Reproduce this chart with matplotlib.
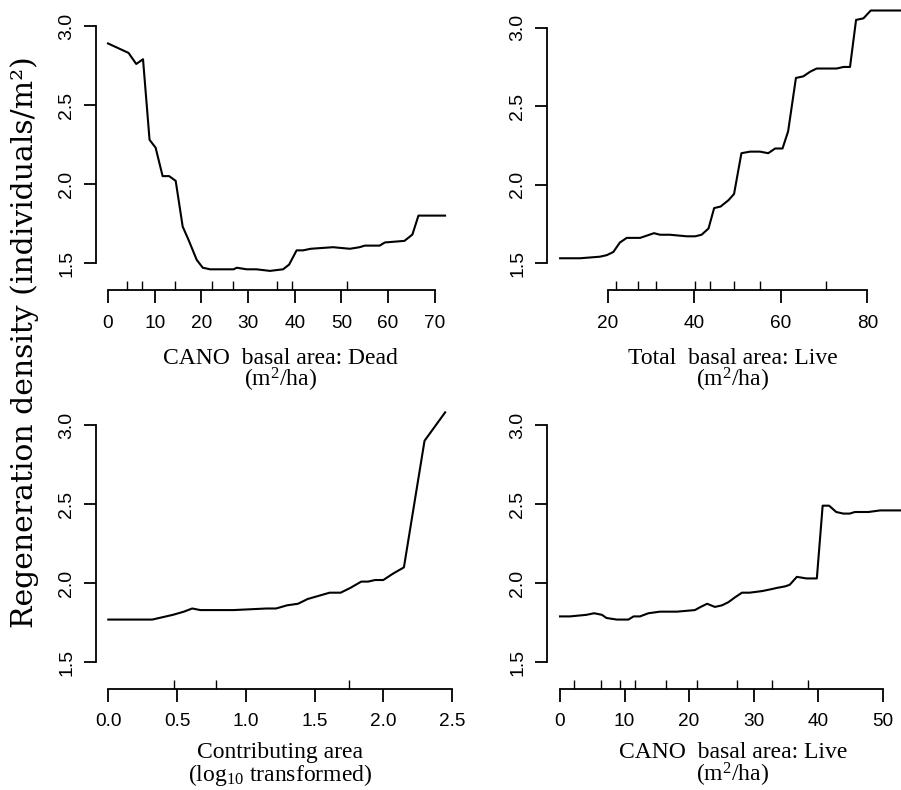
import matplotlib
matplotlib.use("Agg")
import matplotlib.pyplot as plt
import numpy as np

# ---------------- data ----------------
dead_x = [0, 4.4, 6.05, 7.5, 8.9, 10.2, 11.7, 13.1, 14.5, 16.0, 17.2, 19.0, 20.3, 21.9,
          26.9, 27.6, 29.7, 31.8, 34.7, 37.5, 38.8, 40.4, 41.8, 43.4, 48.2, 51.8, 53.9,
          55.0, 58.2, 59.3, 63.5, 65.2, 66.5, 72.2]
dead_y = [2.89, 2.83, 2.76, 2.79, 2.28, 2.23, 2.05, 2.05, 2.02, 1.73, 1.65, 1.52, 1.47, 1.46,
          1.46, 1.47, 1.46, 1.46, 1.45, 1.46, 1.49, 1.58, 1.58, 1.59, 1.60, 1.59, 1.60,
          1.61, 1.61, 1.63, 1.64, 1.68, 1.80, 1.80]
dead_rug = [4.0, 7.2, 14.3, 22.3, 26.8, 30.0, 36.2, 39.4, 51.2]

total_x = [9.0, 13.6, 18.2, 19.8, 21.3, 22.8, 24.4, 27.5, 30.7, 32.1, 34.4, 38.3, 40.2, 41.7,
           43.3, 44.6, 46.1, 47.9, 49.2, 50.9, 52.9, 55.2, 57.1, 58.7, 60.4, 61.7, 63.5,
           65.2, 66.8, 68.3, 72.9, 74.5, 76.0, 77.4, 79.1, 80.8, 88.0]
total_y = [1.53, 1.53, 1.54, 1.55, 1.57, 1.63, 1.66, 1.66, 1.69, 1.68, 1.68, 1.67, 1.67, 1.68,
           1.72, 1.85, 1.86, 1.90, 1.94, 2.20, 2.21, 2.21, 2.20, 2.23, 2.23, 2.34, 2.68,
           2.69, 2.72, 2.74, 2.74, 2.75, 2.75, 3.05, 3.06, 3.11, 3.11]
total_rug = [21.9, 27.1, 31.2, 40.2, 43.6, 49.1, 55.2, 70.5]

contrib_x = [0.0, 0.16, 0.32, 0.42, 0.47, 0.55, 0.61, 0.67, 0.78, 0.91, 1.15, 1.22, 1.30,
             1.38, 1.45, 1.53, 1.61, 1.69, 1.76, 1.84, 1.89, 1.94, 2.00, 2.07, 2.15, 2.30, 2.45]
contrib_y = [1.77, 1.77, 1.77, 1.79, 1.80, 1.82, 1.84, 1.83, 1.83, 1.83, 1.84, 1.84, 1.86,
             1.87, 1.90, 1.92, 1.94, 1.94, 1.97, 2.01, 2.01, 2.02, 2.02, 2.06, 2.10, 2.90, 3.08]
contrib_rug = [0.478, 0.785, 1.748]

live_x = [0, 1.55, 4.1, 5.3, 6.5, 7.2, 8.8, 10.6, 11.4, 12.4, 13.7, 15.5, 18.1, 20.9, 21.8,
          22.8, 24.0, 25.1, 26.1, 27.1, 28.2, 29.4, 31.3, 32.5, 33.6, 34.9, 35.6, 36.7, 38.2,
          39.8, 40.7, 41.7, 42.8, 43.9, 44.9, 45.7, 47.8, 49.6, 53.0]
live_y = [1.79, 1.79, 1.80, 1.81, 1.80, 1.78, 1.77, 1.77, 1.79, 1.79, 1.81, 1.82, 1.82, 1.83,
          1.85, 1.87, 1.85, 1.86, 1.88, 1.91, 1.94, 1.94, 1.95, 1.96, 1.97, 1.98, 1.99, 2.04,
          2.03, 2.03, 2.49, 2.49, 2.45, 2.44, 2.44, 2.45, 2.45, 2.46, 2.46]
live_rug = [2.1, 6.3, 9.3, 11.7, 16.4, 21.3, 27.4, 32.8, 38.4]

y_ticks = [1.5, 2.0, 2.5, 3.0]
dead_ticks = [0, 10, 20, 30, 40, 50, 60, 70]
total_ticks = [20, 40, 60, 80]
contrib_ticks = [0.0, 0.5, 1.0, 1.5, 2.0, 2.5]
live_ticks = [0, 10, 20, 30, 40, 50]

label1 = ["CANO  basal area: Dead", "(m$^2$/ha)"]
label2 = ["Total  basal area: Live", "(m$^2$/ha)"]
label3 = ["Contributing area", "(log$_{10}$ transformed)"]
label4 = ["CANO  basal area: Live", "(m$^2$/ha)"]
ylabel = "Regeneration density (individuals/m²)"

# ---------------- layout ----------------
W, H = 901, 790
plt.rcParams['mathtext.fontset'] = 'custom'
plt.rcParams['mathtext.rm'] = 'Liberation Serif'
plt.rcParams['mathtext.it'] = 'Liberation Serif:italic'
fig = plt.figure(figsize=(W / 100, H / 100), dpi=100)

SERIF = 'Liberation Serif'
SANS = 'Liberation Sans'


def rect(l, t, r, b):
    return [l / W, 1 - b / H, (r - l) / W, (b - t) / H]


def pt(px):
    return px * 72 / 100


def panel(r, xlim, ylim, x, y, rug, xticks, xfmt, lab, lab_y):
    ax = fig.add_axes(rect(*r))
    ax.plot(x, y, color='black', lw=1.5, clip_on=True)
    ax.set_xlim(*xlim)
    ax.set_ylim(*ylim)
    for s in ['top', 'right']:
        ax.spines[s].set_visible(False)
    ax.spines['bottom'].set_position(('outward', pt(9)))
    ax.spines['bottom'].set_bounds(xticks[0], xticks[-1])
    ax.spines['left'].set_bounds(y_ticks[0], y_ticks[-1])
    for s in ['bottom', 'left']:
        ax.spines[s].set_linewidth(1.3)
    ax.set_xticks(xticks)
    ax.set_xticklabels([xfmt.format(v) for v in xticks], family=SANS, fontsize=13.7)
    ax.set_xticks(rug, minor=True)
    ax.set_yticks(y_ticks)
    ax.set_yticklabels(["{:.1f}".format(v) for v in y_ticks], family=SANS, fontsize=14,
                       rotation=90, va='center')
    ax.tick_params(axis='both', which='major', length=pt(12.5), width=1.3, direction='out')
    ax.tick_params(axis='x', which='major', pad=pt(12))
    ax.tick_params(axis='y', which='major', pad=pt(8))
    ax.tick_params(axis='x', which='minor', length=pt(9), width=1.0, direction='in')
    ax.patch.set_visible(False)
    cx = (r[0] + r[2]) / 2 + 2
    fig.text(cx / W, 1 - lab_y[0] / H, lab[0], family=SERIF, fontsize=17,
             ha='center', va='baseline')
    fig.text(cx / W, 1 - lab_y[1] / H, lab[1], family=SERIF, fontsize=17,
             ha='center', va='baseline')
    return ax


panel((96, 0, 460, 281), (-2.57, 75.4), (1.386, 3.165), dead_x, dead_y, dead_rug,
      dead_ticks, "{:d}", label1, (364, 387))
panel((546.7, 0, 915, 281), (5.90, 91.02), (1.385, 3.177), total_x, total_y, total_rug,
      total_ticks, "{:d}", label2, (364, 387))
panel((96, 400, 460, 680), (-0.0895, 2.558), (1.388, 3.158), contrib_x, contrib_y, contrib_rug,
      contrib_ticks, "{:.1f}", label3, (758, 781))
panel((546.7, 400, 915, 680), (-2.06, 55.01), (1.388, 3.158), live_x, live_y, live_rug,
      live_ticks, "{:d}", label4, (758, 782))

fig.text(25 / W, 1 - 342 / H, ylabel, family='DejaVu Serif', fontsize=21.5, rotation=90,
         ha='center', va='center')

fig.savefig("out.png", dpi=100)
